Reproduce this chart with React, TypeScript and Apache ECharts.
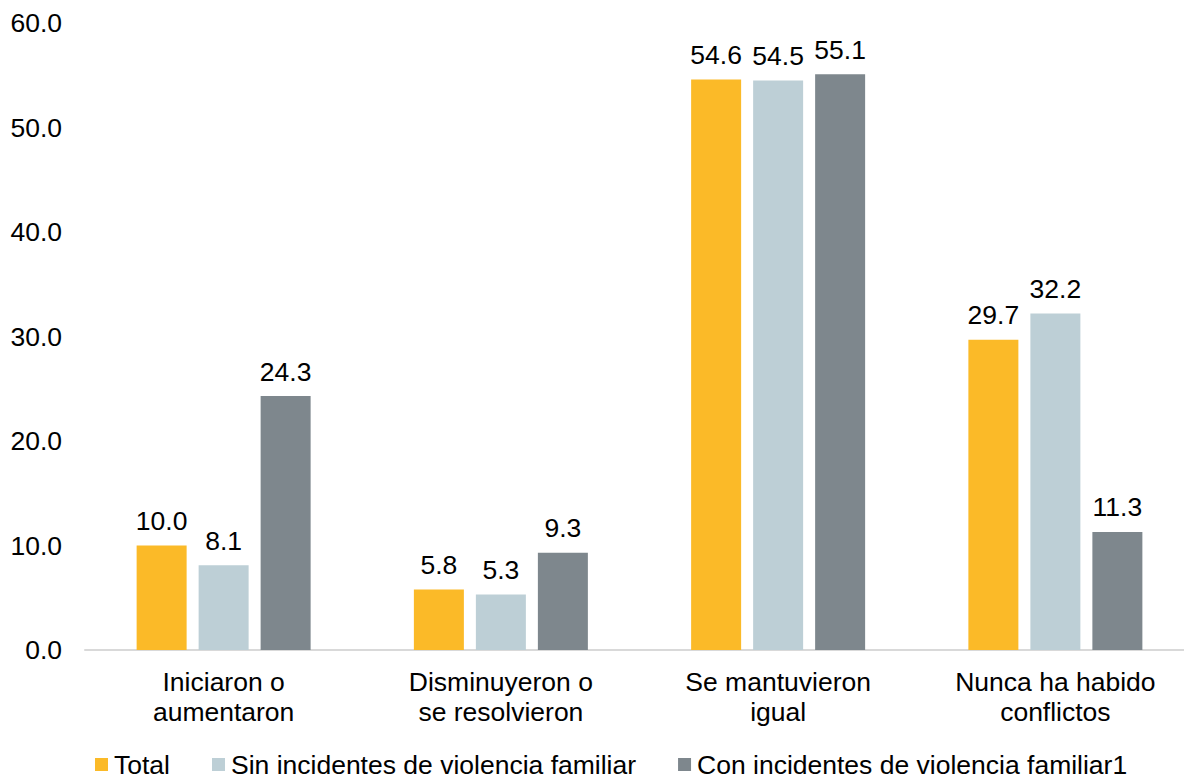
import React, { useEffect, useRef } from "react";
import * as echarts from "echarts";

const categories = [
  "Iniciaron o\naumentaron",
  "Disminuyeron o\nse resolvieron",
  "Se mantuvieron\nigual",
  "Nunca ha habido\nconflictos",
];
const seriesNames = [
  "Total",
  "Sin incidentes de violencia familiar",
  "Con incidentes de violencia familiar1",
];
const totalValues = [10.0, 5.8, 54.6, 29.7];
const sinValues = [8.1, 5.3, 54.5, 32.2];
const conValues = [24.3, 9.3, 55.1, 11.3];
const colors = ["#FBBA28", "#BDCFD6", "#7E878D"];

const FONT = '"Liberation Sans", Arial, sans-serif';
const FS = 26.5;

export default function App() {
  const ref = useRef<HTMLDivElement>(null);
  useEffect(() => {
    if (!ref.current) return;
    const chart = echarts.init(ref.current, null, { renderer: "svg" });
    const values = [totalValues, sinValues, conValues];
    chart.setOption({
      animation: false,
      textStyle: { fontFamily: FONT },
      grid: { left: 85, right: 0, top: 23, bottom: 129, containLabel: false },
      legend: {
        left: 95,
        top: 751,
        padding: 0,
        icon: "rect",
        itemWidth: 13,
        itemHeight: 13,
        itemGap: 42,
        textStyle: { fontFamily: FONT, fontSize: FS, color: "#000", padding: [0, 0, 0, 1] },
        data: seriesNames,
      },
      xAxis: {
        type: "category",
        data: categories,
        axisLine: { show: true, lineStyle: { color: "#D9D9D9", width: 2 } },
        axisTick: { show: false },
        axisLabel: {
          fontFamily: FONT,
          fontSize: FS,
          color: "#000",
          lineHeight: 30,
          margin: 17,
          interval: 0,
        },
      },
      yAxis: {
        type: "value",
        min: 0,
        max: 60,
        interval: 10,
        axisLine: { show: false },
        axisTick: { show: false },
        splitLine: { show: false },
        axisLabel: {
          fontFamily: FONT,
          fontSize: FS,
          color: "#000",
          margin: 23,
          formatter: (v: number) => v.toFixed(1),
        },
      },
      series: seriesNames.map((name, i) => ({
        name,
        type: "bar",
        data: values[i],
        barWidth: 50,
        barGap: "24%",
        itemStyle: { color: colors[i] },
        label: {
          show: true,
          position: "top",
          distance: 11,
          fontFamily: FONT,
          fontSize: FS,
          color: "#000",
          formatter: (p: any) => Number(p.value).toFixed(1),
        },
      })),
    });
    return () => chart.dispose();
  }, []);
  return (
    <div
      ref={ref}
      style={{ position: "fixed", left: 0, top: 0, width: 1194, height: 779, background: "#fff" }}
    />
  );
}
